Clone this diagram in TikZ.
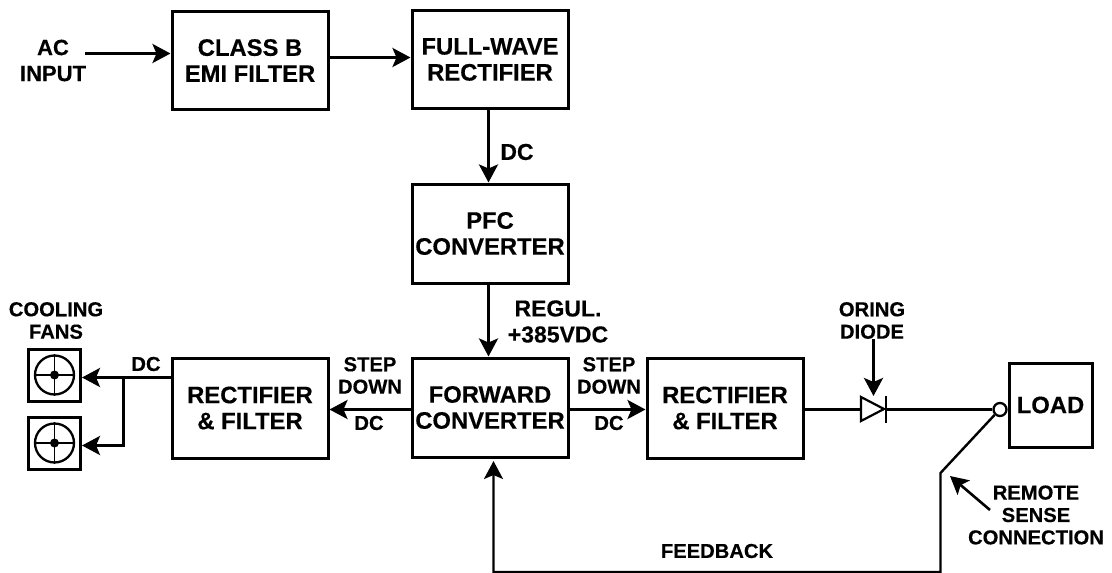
\documentclass[tikz,border=0pt]{standalone}
\usepackage{fontspec}
\setmainfont{Liberation Sans}[BoldFeatures={FakeBold=0.4}]
\usetikzlibrary{arrows.meta,positioning}
\tikzset{x=1pt,y=-1pt,
 blk/.style={draw,line width=3pt,inner sep=0pt,align=center,font=\fontsize{23.8}{26}\selectfont\bfseries},
 lbl/.style={inner sep=0pt,align=center,font=\fontsize{23}{26}\selectfont\bfseries},
 sm/.style={inner sep=0pt,align=center,font=\fontsize{20.2}{22.4}\selectfont\bfseries},
 wire/.style={line width=3pt},
 arr/.style={line width=3pt,-{Stealth[length=18pt,width=19pt,inset=4pt]}}}
\newcommand{\blkat}[6]{\node[blk,minimum width=#4 pt,minimum height=#5 pt] (#1) at (#2,#3) {#6};}
\begin{document}
\begin{tikzpicture}
\useasboundingbox (0,0) rectangle (1112,573);
\blkat{emi}{250}{60.5}{156}{98}{CLASS B\\EMI FILTER}
\blkat{fwr}{490}{59.5}{156}{98}{FULL-WAVE\\RECTIFIER}
\blkat{pfc}{490}{233.5}{156}{99}{PFC\\CONVERTER}
\blkat{fc}{490}{407.5}{156}{99}{FORWARD\\CONVERTER}
\blkat{rl}{250}{408}{156}{100}{RECTIFIER\\\& FILTER}
\blkat{rr}{725}{408}{156}{100}{RECTIFIER\\\& FILTER}
\blkat{load}{1050.5}{405}{83}{84}{LOAD}
% fans
\node[draw,line width=3pt,minimum size=52pt,inner sep=0pt] (f1) at (54.5,375) {};
\node[draw,line width=3pt,minimum size=52pt,inner sep=0pt] (f2) at (54.5,443) {};
\foreach \f in {f1,f2}{
 \node[draw,circle,line width=2.3pt,minimum size=39pt,inner sep=0pt] (\f c) at (\f) {};
 \draw[line width=1.8pt] (\f c.north) -- (\f c.south);
 \draw[line width=1.8pt] (\f c.west) -- (\f c.east);
 \node[fill,circle,minimum size=9pt,inner sep=0pt] (\f d) at (\f) {};
}
% labels
\node[lbl,font=\fontsize{22}{26}\selectfont\bfseries] (ac) at (53,60.5) {AC\\INPUT};
\node[lbl] (dc1) at (517,152) {DC};
\node[lbl] (reg) at (558,321.5) {REGUL.\\+385VDC};
\node[sm] (cf) at (56,320.5) {COOLING\\FANS};
\node[sm] (dcf) at (146,364) {DC};
\node[sm] (sdl) at (370,375.5) {STEP\\DOWN};
\node[sm] (dcl) at (369,423) {DC};
\node[sm] (sdr) at (609,375.5) {STEP\\DOWN};
\node[sm] (dcr) at (609,423) {DC};
\node[sm] (od) at (872,320.5) {ORING\\DIODE};
\node[sm] (fb) at (717,551) {FEEDBACK};
\node[sm] (rs) at (1036,515) {REMOTE\\SENSE\\CONNECTION};
% main connectors
\coordinate (a0) at (85,53.5);
\draw[arr] (a0) -- (a0-|emi.west);
\draw[arr] (emi.east|-0,57.5) -- (fwr.west|-0,57.5);
\draw[arr] (488.5,0|-fwr.south) -- (488.5,0|-pfc.north);
\draw[arr] (488.5,0|-pfc.south) -- (488.5,0|-fc.north);
\draw[arr] (fc.west|-0,409.5) -- (rl.east|-0,409.5);
\draw[arr] (fc.east|-0,409.5) -- (rr.west|-0,409.5);
% fan wiring
\coordinate (j) at (123.5,377.5);
\draw[wire] (rl.west|-j) -- (j);
\draw[arr] (j) -- (f1.east|-j);
\draw[arr] (j) -- (123.5,445.5) -- (f2.east|-0,445.5);
% diode and output
\node[draw,circle,line width=2.3pt,minimum size=13pt,inner sep=0pt] (o) at (1000,409.5) {};
\coordinate (da) at (861,409.5); \coordinate (db) at (886,409.5);
\draw[wire] (rr.east|-da) -- (da);
\draw[line width=2.2pt] (861,397) -- (884,409) -- (861,421) -- cycle;
\draw[line width=2.6pt] (886,396) -- (886,423);
\draw[wire] (db) -- (o.west);
\draw[arr] (873.5,0|-od.south) -- (873.5,396);
% feedback
\coordinate (k) at (940.5,473); \coordinate (b) at (940.5,572); \coordinate (c) at (493.5,572);
\draw[arr,line width=2.4pt] (o.225) -- (k) -- (b) -- (c) -- (493.5,461);
\draw[arr,line width=2.6pt] (990,510) -- (950,476);
\end{tikzpicture}
\end{document}
